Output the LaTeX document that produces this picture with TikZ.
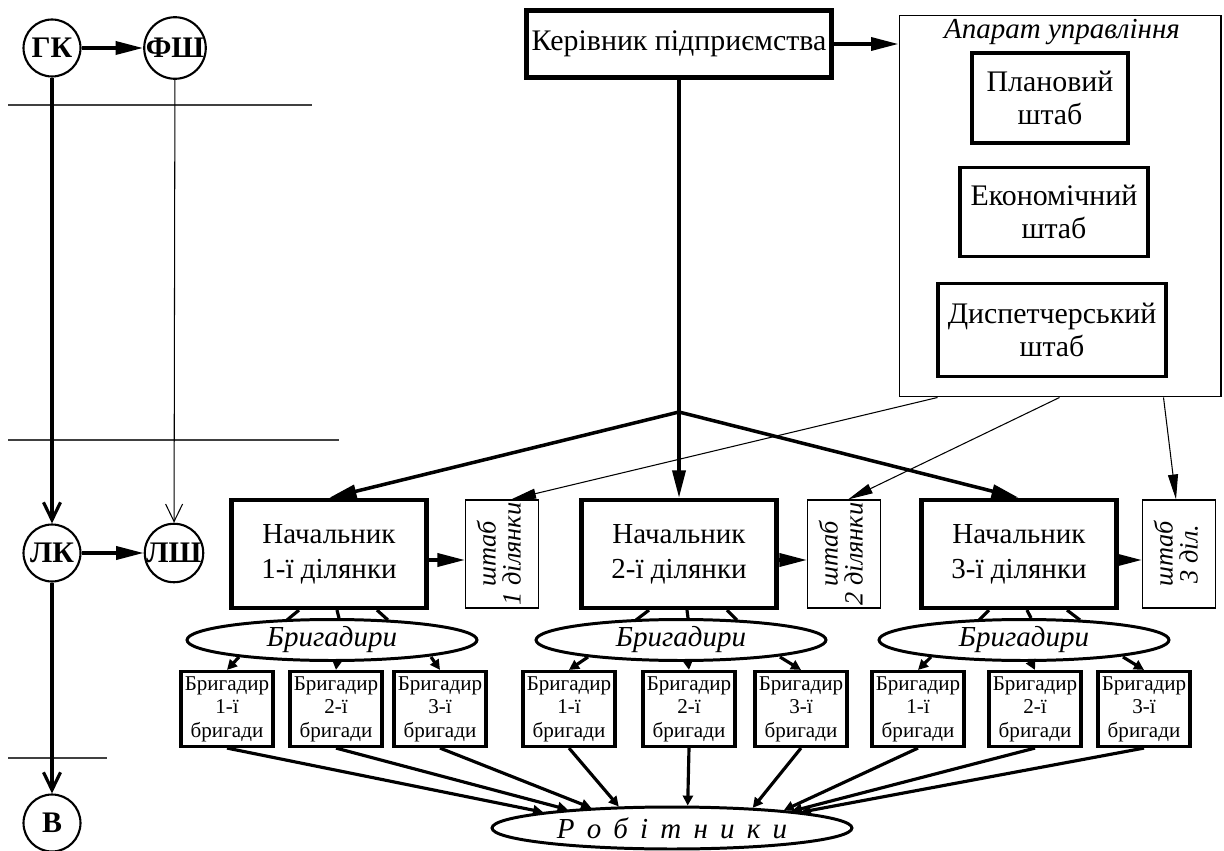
\documentclass[tikz,border=0pt]{standalone}
\usepackage{fontspec}
\setmainfont{Liberation Serif}
\usepackage{graphicx}
\usetikzlibrary{arrows.meta, positioning, shapes.geometric, calc}

\begin{document}
\begin{tikzpicture}[
    x=0.02cm, y=-0.02cm,
    every node/.style={inner sep=0pt, font=\fontsize{16}{19}\selectfont},
    headbox/.style={rectangle, draw, line width=2.4pt, minimum width=6.1cm, minimum height=1.34cm, font=\fontsize{17}{20}\selectfont},
    frame/.style={rectangle, draw, line width=0.6pt, minimum width=6.44cm, minimum height=7.64cm},
    staff/.style={rectangle, draw, line width=1.9pt, align=center, font=\fontsize{17}{19}\selectfont},
    chief/.style={rectangle, draw, line width=2.4pt, minimum width=3.9cm, minimum height=2.16cm, align=center, font=\fontsize{16.5}{20}\selectfont},
    shtab/.style={rectangle, draw, line width=0.6pt, minimum width=1.46cm, minimum height=2.16cm, font=\itshape\fontsize{15}{12.5}\selectfont},
    brigs/.style={ellipse, draw, line width=1.7pt, minimum width=5.8cm, minimum height=0.82cm, font=\itshape\fontsize{16.5}{18}\selectfont},
    brig/.style={rectangle, draw, line width=1.8pt, minimum width=1.84cm, minimum height=1.5cm, align=center, font=\fontsize{12}{13.3}\selectfont},
    circ/.style={circle, draw, line width=1.2pt, minimum size=1.14cm, font=\bfseries\fontsize{17}{18}\selectfont},
    tierline/.style={line width=0.6pt, draw=black!75},
    flow/.style={line width=2pt, -{Triangle[length=5.5mm, width=2.6mm]}},
    thinflow/.style={line width=0.6pt, -{Triangle[length=5mm, width=2mm]}},
    vflow/.style={line width=1.8pt, -{Straight Barb[length=3.5mm, width=3.4mm]}},
    vthin/.style={line width=0.6pt, -{Straight Barb[length=3.5mm, width=3.4mm]}},
    brigarrow/.style={line width=1.8pt, -{Triangle[length=2mm, width=2mm]}},
    stem/.style={line width=1.8pt}
]
\useasboundingbox (0,0) rectangle (1224,851);

% ============ LEVELS (LEFT) ============
\node[circ] (gk) at (52,48) {ГК};
\node[circ] (fsh) at (175,48) {ФШ};
\node[circ] (lk) at (52,553) {ЛК};
\node[circ] (lsh) at (174,553) {ЛШ};
\node[circ] (vv) at (52,823) {В};

% Level separators
\draw[tierline] (8,105) -- (312,105);
\draw[tierline] (8,440) -- (339,440);
\draw[tierline] (8,758) -- (107,758);

\draw[flow] (gk) -- (fsh);
\draw[vflow] (gk) -- (lk);
\draw[vthin] (fsh) -- (lsh);
\draw[flow] (lk) -- (lsh);
\draw[vflow] (lk) -- (vv);

% ============ TOP MANAGEMENT ============
\node[headbox] (ker) at (679,44) {Керівник підприємства};

\node[frame] (app) at (1060,206) {};
\node[font=\itshape\fontsize{16.5}{18}\selectfont] (apptitle) at (1062,32) {Апарат управління};
\node[staff, minimum width=3.12cm, minimum height=1.8cm] (plan) at (1050,98) {Плановий\\штаб};
\node[staff, minimum width=3.76cm, minimum height=1.78cm] (econ) at (1054,212) {Економічний\\штаб};
\node[staff, minimum width=4.56cm, minimum height=1.86cm] (disp) at (1052,330) {Диспетчерський\\штаб};

\draw[flow] (ker.east) -- (ker.east -| app.west);

% ============ SECTIONS ============
\node[chief] (n1) at (329,554) {Начальник\\1-ї ділянки};
\node[chief] (n2) at (679,554) {Начальник\\2-ї ділянки};
\node[chief] (n3) at (1019,554) {Начальник\\3-ї ділянки};

\node[shtab] (s1) at (502,554) {\rotatebox{90}{\begin{tabular}{@{}c@{}}штаб\\1 ділянки\end{tabular}}};
\node[shtab] (s2) at (844,554) {\rotatebox{90}{\begin{tabular}{@{}c@{}}штаб\\2 ділянки\end{tabular}}};
\node[shtab] (s3) at (1179,554) {\rotatebox{90}{\begin{tabular}{@{}c@{}}штаб\\3 діл.\end{tabular}}};

% Fork from the head
\coordinate (fork) at (679,412);
\draw[stem, line width=2pt] (ker.south) -- (fork);
\draw[flow] (fork) -- (n1.north);
\draw[flow] (fork) -- (n2.north);
\draw[flow] (fork) -- (n3.north);

% Staff links
\draw[thinflow] ($(app.south west)+(39,0)$) -- ($(s1.north)+(9,0)$);
\draw[thinflow] ($(app.south west)+(161,0)$) -- ($(s2.north)+(4,0)$);
\draw[thinflow] ($(app.south west)+(265,0)$) -- ($(s3.north)+(-3,0)$);

\draw[flow] ($(n1.east)+(0,6)$) -- ($(s1.west)+(0,6)$);
\draw[flow] ($(n2.east)+(0,6)$) -- ($(s2.west)+(0,6)$);
\draw[flow] ($(n3.east)+(0,6)$) -- ($(s3.west)+(0,6)$);

% ============ FOREMEN ============
\node[brigs] (e1) at (332,640) {Бригадири};
\node[brigs] (e2) at (681,640) {Бригадири};
\node[brigs] (e3) at (1024,640) {Бригадири};

\draw[stem] ($(n1.south)+(-30,0)$) -- ($(e1.north)+(-45,2)$);
\draw[stem] ($(n1.south)+(8,0)$) -- ($(e1.north)+(7,0)$);
\draw[stem] ($(n1.south)+(48,0)$) -- ($(e1.north)+(56,2)$);
\draw[stem] ($(n2.south)+(-30,0)$) -- ($(e2.north)+(-45,2)$);
\draw[stem] ($(n2.south)+(8,0)$) -- ($(e2.north)+(7,0)$);
\draw[stem] ($(n2.south)+(48,0)$) -- ($(e2.north)+(56,2)$);
\draw[stem] ($(n3.south)+(-30,0)$) -- ($(e3.north)+(-45,2)$);
\draw[stem] ($(n3.south)+(8,0)$) -- ($(e3.north)+(7,0)$);
\draw[stem] ($(n3.south)+(48,0)$) -- ($(e3.north)+(56,2)$);

% Brigade leaders
\node[brig] (b11) at (227,709) {Бригадир\\1-ї\\бригади};
\node[brig] (b12) at (336,709) {Бригадир\\2-ї\\бригади};
\node[brig] (b13) at (440,709) {Бригадир\\3-ї\\бригади};
\node[brig] (b21) at (569,709) {Бригадир\\1-ї\\бригади};
\node[brig] (b22) at (689,709) {Бригадир\\2-ї\\бригади};
\node[brig] (b23) at (801,709) {Бригадир\\3-ї\\бригади};
\node[brig] (b31) at (918,709) {Бригадир\\1-ї\\бригади};
\node[brig] (b32) at (1035,709) {Бригадир\\2-ї\\бригади};
\node[brig] (b33) at (1144,709) {Бригадир\\3-ї\\бригади};

\draw[brigarrow] ($(e1.south)+(-93,-5)$) -- (b11.north);
\draw[brigarrow] ($(e1.south)+(5,0)$) -- (b12.north);
\draw[brigarrow] ($(e1.south)+(99,-5)$) -- (b13.north);
\draw[brigarrow] ($(e2.south)+(-93,-5)$) -- (b21.north);
\draw[brigarrow] ($(e2.south)+(7,0)$) -- (b22.north);
\draw[brigarrow] ($(e2.south)+(99,-5)$) -- (b23.north);
\draw[brigarrow] ($(e3.south)+(-93,-5)$) -- (b31.north);
\draw[brigarrow] ($(e3.south)+(7,0)$) -- (b32.north);
\draw[brigarrow] ($(e3.south)+(99,-5)$) -- (b33.north);

% ============ WORKERS ============
\node[brigs, minimum width=7.2cm, minimum height=0.84cm] (rob) at (672,828) {{\spaceskip=0.42em Р о б і т н и к и}\hspace{0.6cm}};

\draw[brigarrow] (b11.south) -- (rob.173);
\draw[brigarrow] (b12.south) -- (rob.170);
\draw[brigarrow] (b13.south) -- (rob.166);
\draw[brigarrow] (b21.south) -- (rob.158);
\draw[brigarrow] (b22.south) -- (rob.55);
\draw[brigarrow] (b23.south) -- (rob.14);
\draw[brigarrow] (b31.south) -- (rob.9.5);
\draw[brigarrow] (b32.south) -- (rob.8.5);
\draw[brigarrow] (b33.south) -- (rob.7.8);

\end{tikzpicture}
\end{document}
